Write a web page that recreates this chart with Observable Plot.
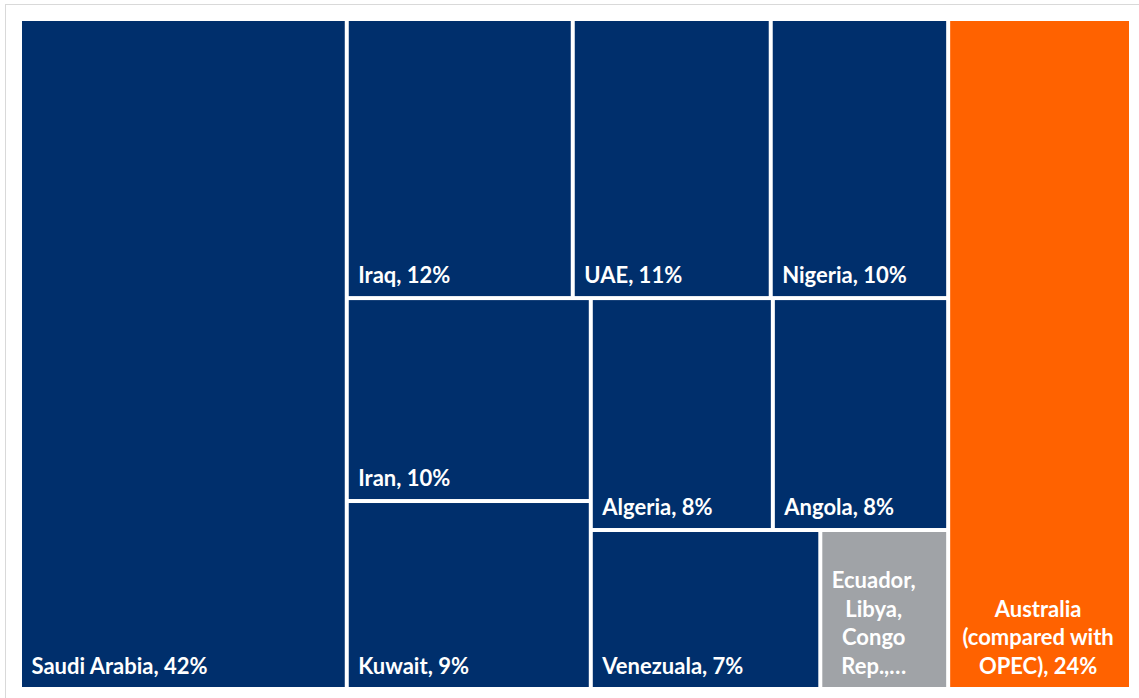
<!DOCTYPE html>
<html><head><meta charset="utf-8">
<script src="https://cdn.jsdelivr.net/npm/d3@7"></script>
<script src="https://cdn.jsdelivr.net/npm/@observablehq/plot@0.6"></script>
<style>
html,body{margin:0;padding:0;background:#fff;overflow:hidden;width:1139px;height:698px;}
#frame{position:absolute;left:5px;top:4px;width:1200px;height:760px;border:1px solid #d9d9d9;box-sizing:border-box;}
#chart{position:absolute;left:0;top:0;}
</style></head><body><div id="frame"></div><div id="chart"></div>
<script>
// Data
const categories = ["Saudi Arabia","Iraq","UAE","Nigeria","Iran","Kuwait","Algeria","Angola","Venezuala","Ecuador, Libya, Congo Rep.,…","Australia"];
const labels = ["Saudi Arabia, 42%","Iraq, 12%","UAE, 11%","Nigeria, 10%","Iran, 10%","Kuwait, 9%","Algeria, 8%","Angola, 8%","Venezuala, 7%","Ecuador,\nLibya,\nCongo\nRep.,…","Australia\n(compared with\nOPEC), 24%"];
const values = [42, 12.1, 10.6, 9.5, 9.5, 8.8, 8.1, 7.8, 7.0, 3.9, 23.5];
const groups = ["OPEC","OPEC","OPEC","OPEC","OPEC","OPEC","OPEC","OPEC","OPEC","OPEC","Australia"];
const colors = ["#002F6C","#002F6C","#002F6C","#002F6C","#002F6C","#002F6C","#002F6C","#002F6C","#002F6C","#A0A3A7","#FF6200"];

const W = 1139, H = 698;
const mT = 19, mR = 8, mB = 9, mL = 20;
const iw = W - mL - mR, ih = H - mT - mB;

const groupNames = Array.from(new Set(groups));
const tree = {name: "root", children: groupNames.map(g => ({
  name: g,
  children: categories.map((c, i) => ({i, name: c, value: values[i]})).filter(d => groups[d.i] === g)
}))};
const root = d3.hierarchy(tree).sum(d => d.value || 0);
d3.treemap().tile(d3.treemapSquarify.ratio(1)).size([iw, ih]).round(false)(root);
const cells = root.leaves().map(n => ({
  ...n.data, label: labels[n.data.i], color: colors[n.data.i],
  x0: n.x0, x1: n.x1, y0: n.y0, y1: n.y1, cx: (n.x0 + n.x1) / 2
}));

const font = {fill: "white", fontSize: 22, fontWeight: "bold", fontFamily: "Lato, 'Open Sans', sans-serif", lineAnchor: "bottom", lineHeight: 1.3};

const plot = Plot.plot({
  width: W, height: H,
  marginTop: mT, marginRight: mR, marginBottom: mB, marginLeft: mL,
  x: {domain: [0, iw], axis: null},
  y: {domain: [0, ih], axis: null, reverse: true},
  color: {type: "identity"},
  style: {background: "transparent"},
  marks: [
    Plot.rect(cells, {x1: "x0", x2: "x1", y1: "y0", y2: "y1", fill: "color", inset: 2}),
    Plot.text(cells.filter(d => !d.label.includes("\n")), {...font, x: "x0", y: "y1", text: "label", textAnchor: "start", dx: 11, dy: -15.5}),
    Plot.text(cells.filter(d => d.label.includes("\n") && d.name !== "Australia"), {...font, x: "cx", y: "y1", text: "label", textAnchor: "middle", dx: -11, dy: -15.5}),
    Plot.text(cells.filter(d => d.name === "Australia"), {...font, x: "cx", y: "y1", text: "label", textAnchor: "middle", dx: -2, dy: -15.5})
  ]
});
document.getElementById("chart").appendChild(plot);
</script></body></html>
